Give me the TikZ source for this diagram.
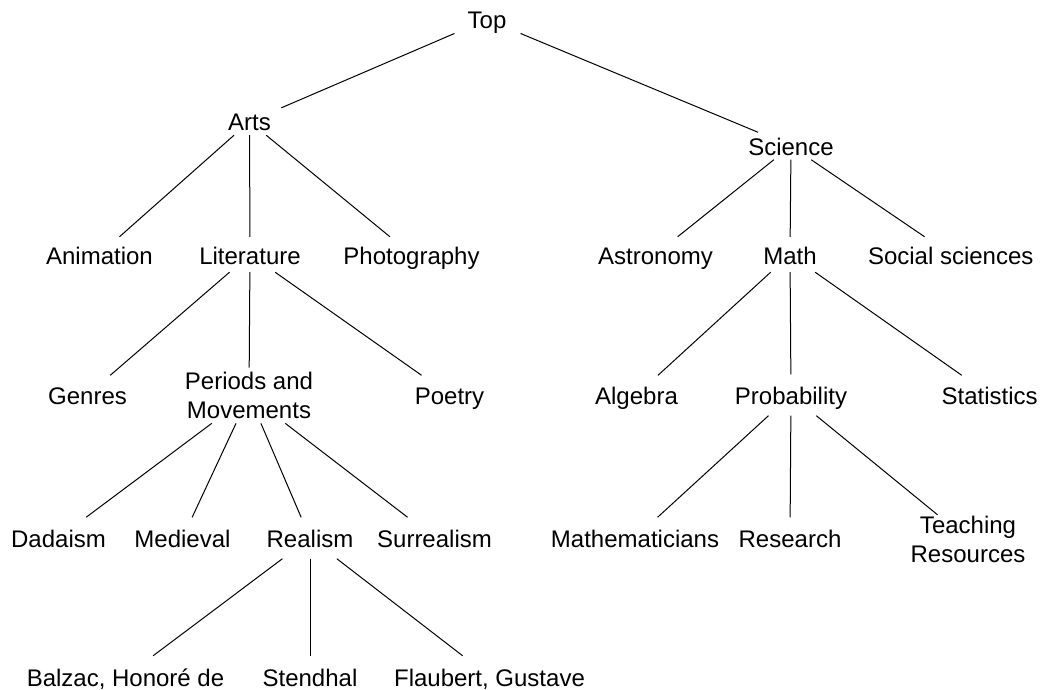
\documentclass[tikz,border=0pt]{standalone}
\usepackage{fontspec}
\setmainfont{Liberation Sans}
\begin{document}
\begin{tikzpicture}[x=1pt,y=-1pt,
  lbl/.style={rectangle, inner xsep=15pt, inner ysep=0pt,
    font=\fontsize{24}{29}\selectfont, text height=23pt, text depth=4pt},
  lbltwo/.style={rectangle, inner xsep=15pt, inner ysep=0pt, align=center,
    font=\fontsize{24}{29}\selectfont},
  edge/.style={draw=black, line width=1pt}]
\useasboundingbox (0,0) rectangle (1041,690);
% row 1
\node[lbl, minimum height=27.6pt] (top) at (487,19.5) {Top};
% row 2
\node[lbl, minimum height=27pt] (arts) at (249.5,121.5) {Arts};
\node[lbl, minimum height=27pt] (science) at (791,146) {Science};
% row 3
\node[lbl, minimum height=35pt] (animation) at (99.5,254.5) {Animation};
\node[lbl, minimum height=35pt] (literature) at (250,254.5) {Literature};
\node[lbl, minimum height=35pt] (photography) at (411.5,254.5) {Photography};
\node[lbl, minimum height=35pt] (astronomy) at (655.5,254.5) {Astronomy};
\node[lbl, minimum height=35pt] (math) at (790,254.5) {Math};
\node[lbl, minimum height=35pt] (social) at (950.7,254.5) {Social sciences};
% row 4
\node[lbl, minimum height=39pt] (genres) at (87.5,395) {Genres};
\node[lbltwo, minimum height=55.3pt] (periods) at (249,395.5) {Periods and\\Movements};
\node[lbl, minimum height=39pt] (poetry) at (449.5,395) {Poetry};
\node[lbl, minimum height=39pt] (algebra) at (636.5,395) {Algebra};
\node[lbl, minimum height=41pt] (probability) at (791,395) {Probability};
\node[lbl, minimum height=39pt] (statistics) at (989.7,395) {Statistics};
% row 5
\node[lbl, minimum height=41pt] (dadaism) at (58.5,538) {Dadaism};
\node[lbl, minimum height=41pt] (medieval) at (182.5,538) {Medieval};
\node[lbl, minimum height=41pt] (realism) at (310,538) {Realism};
\node[lbl, minimum height=41pt] (surrealism) at (434.5,538) {Surrealism};
\node[lbl, minimum height=41pt] (mathematicians) at (635,538) {Mathematicians};
\node[lbl, minimum height=41pt] (research) at (790,538) {Research};
\node[lbltwo, minimum height=49.5pt] (teaching) at (968,539.75) {Teaching\\Resources};
% row 6
\node[lbl, minimum height=41pt] (balzac) at (125.5,676.5) {Balzac, Honoré de};
\node[lbl, minimum height=41pt] (stendhal) at (310,676.5) {Stendhal};
\node[lbl, minimum height=41pt] (flaubert) at (489.5,676.5) {Flaubert, Gustave};
% edges
\draw[edge] (top) -- (arts);
\draw[edge] (top) -- (science);
\draw[edge] (arts) -- (animation);
\draw[edge] (arts) -- (literature);
\draw[edge] (arts) -- (photography);
\draw[edge] (science) -- (astronomy);
\draw[edge] (science) -- (math);
\draw[edge] (science) -- (social);
\draw[edge] (literature) -- (genres);
\draw[edge] (literature) -- (periods);
\draw[edge] (literature) -- (poetry);
\draw[edge] (math) -- (algebra);
\draw[edge] (math) -- (probability);
\draw[edge] (math) -- (statistics);
\draw[edge] (periods) -- (dadaism);
\draw[edge] (periods) -- (medieval);
\draw[edge] (periods) -- (realism);
\draw[edge] (periods) -- (surrealism);
\draw[edge] (probability) -- (mathematicians);
\draw[edge] (probability) -- (research);
\draw[edge] (probability) -- (teaching);
\draw[edge] (realism) -- (balzac);
\draw[edge] (realism) -- (stendhal);
\draw[edge] (realism) -- (flaubert);
\end{tikzpicture}
\end{document}
